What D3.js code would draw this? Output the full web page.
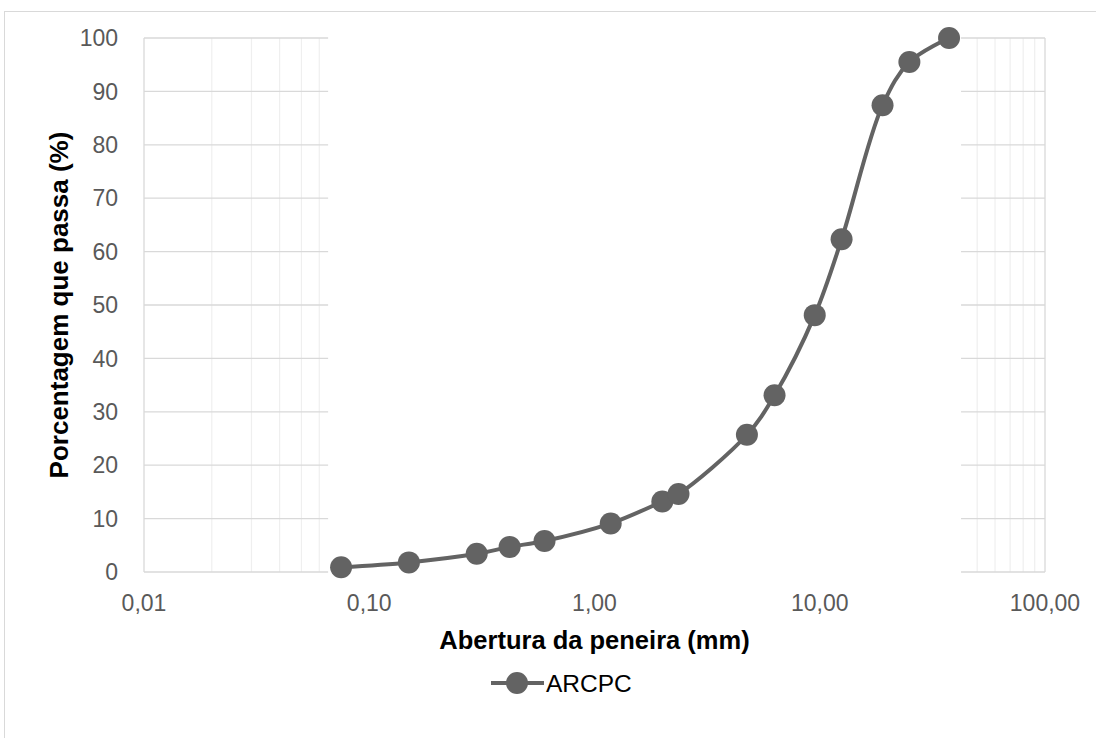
<!DOCTYPE html>
<html>
<head>
<meta charset="utf-8">
<script src="https://cdn.jsdelivr.net/npm/d3@7"></script>
<style>
  html, body { margin: 0; padding: 0; background: #fff; }
  svg { display: block; font-family: "Liberation Sans", Arial, sans-serif; }
</style>
</head>
<body>
<svg id="chart" width="1096" height="738"></svg>
<script>
// ---- Data ----
const sieveOpenings = [0.075, 0.15, 0.3, 0.42, 0.6, 1.18, 2.0, 2.36, 4.75, 6.3, 9.5, 12.5, 19, 25, 37.5];
const percentPassing = [0.9, 1.8, 3.4, 4.7, 5.8, 9.1, 13.2, 14.6, 25.7, 33.1, 48.1, 62.3, 87.4, 95.5, 100];
const xTicks = [0.01, 0.1, 1, 10, 100];
const xTickLabels = ["0,01", "0,10", "1,00", "10,00", "100,00"];
const yTicks = [0, 10, 20, 30, 40, 50, 60, 70, 80, 90, 100];
const seriesName = "ARCPC";
const xTitle = "Abertura da peneira (mm)";
const yTitle = "Porcentagem que passa (%)";

const svg = d3.select("#chart");
const W = 1096, H = 738;
const m = { left: 144, right: 51, top: 38, bottom: 166 };

const x = d3.scaleLog().domain([0.01, 100]).range([m.left, W - m.right]);
const y = d3.scaleLinear().domain([0, 100]).range([H - m.bottom, m.top]);

// outer chart border (extends beyond the visible page)
svg.append("rect")
  .attr("x", 4.5).attr("y", 11.5).attr("width", 1300).attr("height", 900)
  .attr("fill", "none").attr("stroke", "#d9d9d9").attr("stroke-width", 1);

const grid = svg.append("g");
// minor vertical gridlines
const minor = [];
for (let d = 0.01; d < 100; d *= 10) {
  for (let k = 2; k <= 9; k++) minor.push(d * k);
}
grid.selectAll("line.minor").data(minor).join("line")
  .attr("x1", d => x(d)).attr("x2", d => x(d))
  .attr("y1", y(0)).attr("y2", y(100))
  .attr("stroke", "#efefef").attr("stroke-width", 1.2);
// major vertical gridlines
grid.selectAll("line.majorv").data(xTicks).join("line")
  .attr("x1", d => x(d)).attr("x2", d => x(d))
  .attr("y1", y(0)).attr("y2", y(100))
  .attr("stroke", "#d9d9d9").attr("stroke-width", 1.3);
// horizontal gridlines
grid.selectAll("line.h").data(yTicks).join("line")
  .attr("x1", x(0.01)).attr("x2", x(100))
  .attr("y1", d => y(d)).attr("y2", d => y(d))
  .attr("stroke", "#d9d9d9").attr("stroke-width", 1.3);

// white band behind the series (hides grid between the first and last marker)
const r = 11;
svg.append("rect")
  .attr("x", x(d3.min(sieveOpenings)) - r - 2)
  .attr("width", x(d3.max(sieveOpenings)) - x(d3.min(sieveOpenings)) + 2 * r + 3)
  .attr("y", y(100) - 2)
  .attr("height", y(0) - y(100) + 4)
  .attr("fill", "#fff");

// tick labels
svg.append("g").selectAll("text").data(yTicks).join("text")
  .attr("x", 118).attr("y", d => y(d)).attr("dy", "0.36em")
  .attr("text-anchor", "end").attr("font-size", 23).attr("fill", "#595959")
  .text(d => d);
svg.append("g").selectAll("text").data(xTicks).join("text")
  .attr("x", d => x(d)).attr("y", 611)
  .attr("text-anchor", "middle").attr("font-size", 23).attr("fill", "#595959")
  .text((d, i) => xTickLabels[i]);

// axis titles
svg.append("text")
  .attr("x", x(1)).attr("y", 649)
  .attr("text-anchor", "middle").attr("font-size", 25.5).attr("font-weight", "bold").attr("fill", "#000")
  .text(xTitle);
svg.append("text")
  .attr("transform", `translate(68,${(y(0) + y(100)) / 2}) rotate(-90)`)
  .attr("text-anchor", "middle").attr("font-size", 26).attr("font-weight", "bold").attr("fill", "#000")
  .text(yTitle);

// series
const pts = sieveOpenings.map((d, i) => [d, percentPassing[i]]);
const line = d3.line().x(d => x(d[0])).y(d => y(d[1])).curve(d3.curveCatmullRom.alpha(0.5));
svg.append("path").datum(pts)
  .attr("d", line).attr("fill", "none")
  .attr("stroke", "#636363").attr("stroke-width", 4).attr("stroke-linejoin", "round");
svg.append("g").selectAll("circle").data(pts).join("circle")
  .attr("cx", d => x(d[0])).attr("cy", d => y(d[1])).attr("r", r)
  .attr("fill", "#636363");

// legend
const lg = svg.append("g").attr("transform", "translate(491,683)");
lg.append("line").attr("x1", 0).attr("x2", 53).attr("y1", 0).attr("y2", 0)
  .attr("stroke", "#636363").attr("stroke-width", 4);
lg.append("circle").attr("cx", 26).attr("cy", 0).attr("r", r).attr("fill", "#636363");
lg.append("text").attr("x", 55).attr("y", 0).attr("dy", "0.36em")
  .attr("font-size", 24.5).attr("fill", "#000").text(seriesName);
</script>
</body>
</html>
